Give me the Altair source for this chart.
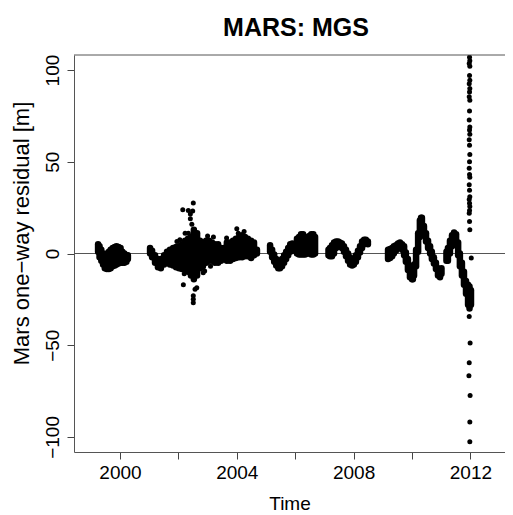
import altair as alt
import pandas as pd

# ---- dense residual tracks: time [yr], upper / lower residual of the track [m]
seg1_t = [1999.25, 1999.30, 1999.36, 1999.42, 1999.48, 1999.55, 1999.62, 1999.68, 1999.75,
          1999.82, 1999.88, 1999.95, 2000.02, 2000.08, 2000.15, 2000.22, 2000.27]
seg1_hi = [5, 4, 2, 0, -1, 0, 1, 2, 3, 3.5, 4, 3.5, 3, 1, 0, -1, -1]
seg1_lo = [1, -2, -4, -6, -8, -8.5, -8.5, -8, -7, -6.5, -6, -5.5, -5, -5, -5, -4.5, -3]

seg2_t = [2001.03, 2001.10, 2001.20, 2001.30, 2001.40, 2001.51, 2001.61, 2001.71, 2001.82,
          2001.92, 2002.02, 2002.12, 2002.23, 2002.33, 2002.43, 2002.53, 2002.64, 2002.74,
          2002.84, 2002.95, 2003.05, 2003.15, 2003.25, 2003.36, 2003.46, 2003.56, 2003.66,
          2003.77, 2003.87, 2003.97, 2004.08, 2004.18, 2004.28, 2004.38, 2004.49, 2004.59,
          2004.69]
seg2_hi = [3, 1.5, -1, -3, -3, -1, 1, 2, 3, 3.5, 4, 5, 7, 8, 9, 13, 11, 7, 6, 7, 7, 6, 5, 5,
           3, 3, 6, 6, 7, 8, 9, 10, 9, 8, 7, 6, 2]
seg2_lo = [0, -2, -5, -7.5, -8, -6, -5, -6, -6.5, -7.5, -8, -8.5, -9, -10, -12, -14, -12, -8,
           -7, -5, -4, -4, -5, -5, -4, -3, -4, -4, -3, -2.5, -2, -2, -1.5, -1.5, -2.5, -1, 0]

seg3_t = [2005.14, 2005.21, 2005.28, 2005.35, 2005.42, 2005.48, 2005.55, 2005.62, 2005.69,
          2005.76, 2005.83, 2005.90, 2005.97, 2006.06, 2006.13, 2006.20, 2006.27, 2006.34,
          2006.41, 2006.48, 2006.55, 2006.62, 2006.68]
seg3_hi = [4.5, 2, -0.5, -3, -4.5, -5, -3, -1, 1, 3, 5, 5.5, 2, 8, 9, 10.5, 10.5, 9, 8, 9.5,
           10.5, 10.5, 9]
seg3_lo = [1, -2, -4.5, -6.5, -8, -8, -7, -5, -3, -1, 1, 2, 1.5, 0, -0.5, -0.5, -0.5, -0.5, 0,
           0, -0.5, -0.5, 0]

seg4_t = [2007.14, 2007.19, 2007.26, 2007.33, 2007.40, 2007.47, 2007.53, 2007.60, 2007.67,
          2007.74, 2007.81, 2007.88, 2007.95, 2008.01, 2008.08, 2008.15, 2008.22, 2008.29,
          2008.36, 2008.42, 2008.49]
seg4_hi = [2, 3, 4.5, 6, 6.5, 6.5, 6, 5.5, 4, 2, 0, -2, -4, -3, -1, 1.5, 4, 6.5, 7.5, 7.5, 6.5]
seg4_lo = [-1, -1.5, -1.5, 0, 3, 4, 4, 3, 1, -1.5, -4, -6, -6.5, -6, -4.5, -2, 0.5, 3, 5, 5.5, 5]

seg5_t = [2009.18, 2009.25, 2009.32, 2009.38, 2009.45, 2009.52, 2009.59, 2009.66, 2009.73,
          2009.79, 2009.86, 2009.93, 2010.00, 2010.03, 2010.07, 2010.14, 2010.21, 2010.27,
          2010.31, 2010.34, 2010.41, 2010.48, 2010.55, 2010.62, 2010.68, 2010.75, 2010.82,
          2010.89, 2010.96, 2011.01]
seg5_hi = [2, 2.5, 3, 4, 4.5, 5.5, 6, 5, 4, 0.5, -3, -7.5, -11, -12, -6, 2, 11, 18, 19.5,
           19.5, 15, 11, 7, 4, 1, -2, -5, -8, -11, -8]
seg5_lo = [-3, -2.5, -1.5, 0, 1.5, 3, 3.5, 2, -1, -4.5, -9, -13, -14, -14, -12, -7, 1, 9, 15,
           14, 10, 6.5, 3, 0, -3, -5.5, -8.5, -12, -13, -11]

seg6_t = [2011.18, 2011.23, 2011.30, 2011.37, 2011.44, 2011.51, 2011.58, 2011.64, 2011.71,
          2011.78, 2011.85, 2011.92, 2011.97, 2012.02]
seg6_hi = [1, 3, 7, 10, 11.5, 10.5, 6, 0, -5, -10, -15, -17, -18, -20]
seg6_lo = [-4, -4, 0, 4, 8, 5, -1, -7, -12, -17, -22, -28, -30, -28]

# ---- isolated residual points: time [yr], residual [m]
pts_t = [2002.51, 2002.15, 2002.34, 2002.49, 2002.41, 2002.41, 2002.46, 2002.23, 2002.34,
         2004.00, 2002.17, 2002.57, 2002.63, 2002.51, 2002.51, 2002.51,
         2001.95, 2002.05, 2003.00, 2003.20, 2003.65, 2004.05, 2004.25, 2002.90, 2003.10,
         2002.20, 2002.85,
         2011.97, 2011.98, 2011.96, 2011.98, 2011.97, 2011.98, 2011.96, 2011.98, 2011.97,
         2011.96, 2011.98, 2011.97, 2011.96, 2011.98, 2011.97, 2011.98, 2011.96, 2011.97,
         2011.98, 2011.97, 2011.96, 2011.97, 2011.98, 2011.96, 2011.97, 2011.98, 2011.96,
         2011.97, 2011.98, 2011.97, 2011.96, 2011.97, 2011.98, 2012.03, 2011.96, 2011.99,
         2011.96, 2011.95, 2011.99, 2011.98, 2011.98]
pts_v = [27.5, 23.8, 23.5, 23.2, 21.5, 19, 16, 11, 11,
         13.5, -17, -19.5, -18.7, -23, -25, -26.8,
         6.5, 7.5, 9.5, 9, 8.5, 11, 12, -9.5, -7,
         -11, -10.5,
         107, 105, 103.5, 102, 97, 94.5, 92.5, 90, 88,
         85.5, 83.5, 77.7, 72.8, 69, 67.3, 65, 62, 59,
         54, 50, 46.5, 43, 41.5, 37.5, 34.5, 31, 29.5,
         27.4, 25.6, 23.5, 22, 17.4, 12.9, -2.5, -34.3, -48.8,
         -59.5, -66.6, -77.4, -91.9, -102.6]

x_ticks = [2000, 2002, 2004, 2006, 2008, 2010, 2012]
y_ticks = [-100, -50, 0, 50, 100]

band = pd.DataFrame({
    "t": seg1_t + seg2_t + seg3_t + seg4_t + seg5_t + seg6_t,
    "hi": seg1_hi + seg2_hi + seg3_hi + seg4_hi + seg5_hi + seg6_hi,
    "lo": seg1_lo + seg2_lo + seg3_lo + seg4_lo + seg5_lo + seg6_lo,
})
pts = pd.DataFrame({"t": pts_t, "v": pts_v})
one = pd.DataFrame({"k": [0]})

W, H = 431, 397
FONT = "Liberation Sans"
xs = alt.Scale(domain=[1998.425, 2013.185], nice=False, zero=False)
ys = alt.Scale(domain=[-108.2, 108.2], nice=False, zero=False)

xaxis = alt.Axis(values=x_ticks, format="d",
                 labelExpr="datum.value % 4 == 0 ? datum.label : ''",
                 grid=False, tickSize=7, tickColor="#444", domainColor="#555",
                 labelPadding=4, labelFontSize=19, labelColor="black", labelFont=FONT,
                 labelFlush=False, labelOverlap=False,
                 title="Time", titleFont=FONT, titleFontSize=19, titleFontWeight="normal",
                 titleColor="black", titleBaseline="alphabetic", titleY=57)
yaxis = alt.Axis(values=y_ticks, grid=False, tickSize=7, tickColor="#444", domainColor="#555",
                 labelAngle=270, labelAlign="center", labelBaseline="alphabetic",
                 labelPadding=9, labelFontSize=19, labelColor="black", labelFont=FONT,
                 labelFlush=False, labelOverlap=False,
                 title="Mars one\u2212way residual [m]", titleFont=FONT, titleFontSize=22,
                 titleFontWeight="normal", titleColor="black", titleAngle=270,
                 titleAlign="center", titleBaseline="alphabetic", titleX=-46, titleY=178)

zero = alt.Chart(one).mark_rule(color="#555", strokeWidth=1).encode(
    y=alt.datum(0, scale=ys, axis=yaxis))

tracks = alt.Chart(band).mark_rule(color="black", strokeWidth=6.5, strokeCap="round",
                                   clip=True).encode(
    x=alt.X("t:Q", scale=xs, axis=xaxis),
    y=alt.Y("lo:Q", scale=ys, axis=yaxis),
    y2="hi:Q",
)

dots = alt.Chart(pts).mark_circle(color="black", size=25, opacity=1, clip=True).encode(
    x=alt.X("t:Q", scale=xs, axis=xaxis),
    y=alt.Y("v:Q", scale=ys, axis=yaxis),
)

topline = alt.Chart(one).mark_rule(color="#555", strokeWidth=1).encode(
    x=alt.value(0), x2=alt.value(W), y=alt.value(0))

chart = alt.layer(zero, tracks, dots, topline).properties(
    width=W, height=H,
    title=alt.Title("MARS: MGS", font=FONT, fontSize=25, fontWeight="bold", color="black",
                    anchor="middle", dx=6.5, dy=25, offset=18, baseline="alphabetic"),
    autosize=alt.AutoSizeParams(type="none"),
    padding={"left": 66, "top": 47, "right": 0, "bottom": 64},
).configure_view(stroke="transparent")

chart.save("out.html", embed_options={"renderer": "svg", "actions": False})
